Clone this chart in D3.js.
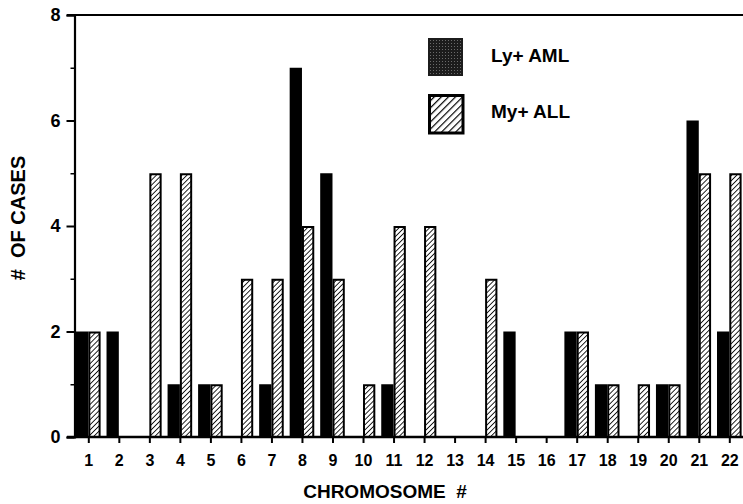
<!DOCTYPE html>
<html><head><meta charset="utf-8">
<script src="https://cdn.jsdelivr.net/npm/d3@7"></script>
<style>
html,body{margin:0;padding:0;background:#fff;}
text{font-family:"Liberation Sans",Arial,Helvetica,sans-serif;font-weight:bold;fill:#000;}
</style></head>
<body>
<svg id="c" width="743" height="504"></svg>
<script>
const chromosomes = ["1","2","3","4","5","6","7","8","9","10","11","12","13","14","15","16","17","18","19","20","21","22"];
const lyAML = [2,2,0,1,1,0,1,7,5,0,1,0,0,0,2,0,2,1,0,1,6,2];
const myALL = [2,0,5,5,1,3,3,4,3,1,4,4,0,3,0,0,2,1,1,1,5,5];
const yMajorTicks = [0,2,4,6,8];
const yMinorTicks = [1,3,5,7];
const seriesNames = ["Ly+ AML","My+ ALL"];

const svg = d3.select("#c");
const defs = svg.append("defs");
function makeHatch(id, s, w){
  const p = defs.append("pattern").attr("id",id).attr("patternUnits","userSpaceOnUse")
    .attr("width",s).attr("height",s).attr("patternTransform","rotate(45)");
  p.append("rect").attr("width",s).attr("height",s).attr("fill","#fff");
  p.append("line").attr("x1",0).attr("y1",0).attr("x2",0).attr("y2",s).attr("stroke","#000").attr("stroke-width",w);
}
makeHatch("hatch",3.6,1.7);
makeHatch("hatchL",5,2.4);
const stip = defs.append("pattern").attr("id","stip").attr("patternUnits","userSpaceOnUse").attr("width",3).attr("height",3);
stip.append("rect").attr("width",3).attr("height",3).attr("fill","#1c1c1c");
stip.append("rect").attr("x",1).attr("y",1).attr("width",1).attr("height",1).attr("fill","#6a6a6a");

const x = d3.scalePoint().domain(chromosomes).range([88.3,729.3]);
const y = d3.scaleLinear().domain([0,8]).range([437,15]);
const bw = 12.3;

// bars
const g = svg.append("g");
g.selectAll("rect.ly").data(chromosomes).join("rect").attr("class","ly")
  .attr("x",d=>x(d)-bw).attr("width",bw)
  .attr("y",(d,i)=>y(lyAML[i])).attr("height",(d,i)=>y(0)-y(lyAML[i]))
  .attr("fill","#000");
g.selectAll("rect.my").data(chromosomes.filter((d,i)=>myALL[i]>0)).join("rect").attr("class","my")
  .attr("x",d=>x(d)+1).attr("width",bw-2)
  .attr("y",d=>y(myALL[chromosomes.indexOf(d)])+1).attr("height",d=>y(0)-y(myALL[chromosomes.indexOf(d)])-1)
  .attr("fill","url(#hatch)").attr("stroke","#000").attr("stroke-width",2);

// frame lines
svg.append("line").attr("x1",67).attr("x2",743).attr("y1",y(8)).attr("y2",y(8)).attr("stroke","#000").attr("stroke-width",2);
svg.append("line").attr("x1",67).attr("x2",743).attr("y1",y(0)).attr("y2",y(0)).attr("stroke","#000").attr("stroke-width",2.5);

// y axes
const yAx = svg.append("g").attr("transform","translate(74.5,0)")
  .call(d3.axisLeft(y).tickValues(yMajorTicks).tickSize(8).tickPadding(6).tickFormat(d3.format("d")));
yAx.select(".domain").attr("stroke-width",2.2);
yAx.selectAll(".tick line").attr("stroke-width",2);
yAx.selectAll(".tick text").style("font-size","18px");
const yMin = svg.append("g").attr("transform","translate(74.5,0)")
  .call(d3.axisLeft(y).tickValues(yMinorTicks).tickSize(4).tickFormat(""));
yMin.select(".domain").remove();
yMin.selectAll(".tick line").attr("stroke-width",1.5);

// x axis
const xAx = svg.append("g").attr("transform",`translate(0,${y(0)})`)
  .call(d3.axisBottom(x).tickSize(6).tickPadding(12));
xAx.select(".domain").remove();
xAx.selectAll(".tick line").attr("stroke-width",2);
xAx.selectAll(".tick text").style("font-size","16px");

// axis titles
svg.append("text").attr("transform","translate(25,218) rotate(-90)").attr("text-anchor","middle")
  .style("font-size","20px").style("white-space","pre").text("#  OF CASES");
svg.append("text").attr("x",385).attr("y",498).attr("text-anchor","middle")
  .style("font-size","19px").style("white-space","pre").text("CHROMOSOME  #");

// legend
const leg = svg.append("g");
leg.append("rect").attr("x",428).attr("y",38).attr("width",35).attr("height",38).attr("fill","url(#stip)");
leg.append("rect").attr("x",429.5).attr("y",95.5).attr("width",33.5).attr("height",37.5)
  .attr("fill","url(#hatchL)").attr("stroke","#000").attr("stroke-width",3);
leg.append("text").attr("x",491).attr("y",62).style("font-size","19px").text(seriesNames[0]);
leg.append("text").attr("x",491).attr("y",118).style("font-size","19px").text(seriesNames[1]);
</script>
</body></html>
